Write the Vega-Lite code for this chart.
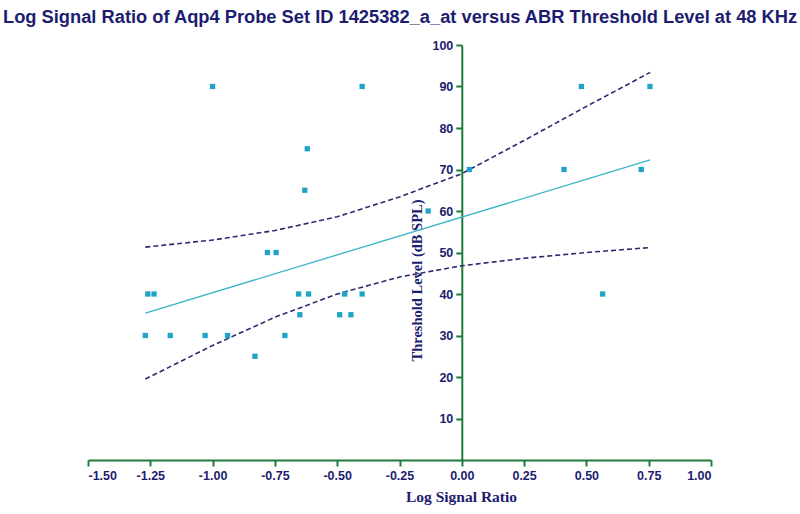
{
  "$schema": "https://vega.github.io/schema/vega-lite/v6.json",
  "autosize": "none",
  "width": 623,
  "height": 415,
  "padding": {"left": 88, "top": 45, "right": 89, "bottom": 54},
  "background": "white",
  "config": {"view": {"stroke": null}},
  "title": {
    "text": "Log Signal Ratio of Aqp4 Probe Set ID 1425382_a_at versus ABR Threshold Level at 48 KHz",
    "anchor": "start",
    "frame": "group",
    "dx": -85,
    "dy": 0,
    "offset": 12,
    "font": "Liberation Sans",
    "fontSize": 18.3,
    "fontWeight": "bold",
    "color": "#1c1c70"
  },
  "datasets": {
    "pts": [
      {"ratio": -1.00, "level": 90}, {"ratio": -0.40, "level": 90}, {"ratio": 0.48, "level": 90}, {"ratio": 0.755, "level": 90},
      {"ratio": -0.62, "level": 75}, {"ratio": -0.63, "level": 65},
      {"ratio": -0.78, "level": 50}, {"ratio": -0.745, "level": 50},
      {"ratio": -0.135, "level": 60},
      {"ratio": 0.03, "level": 70}, {"ratio": 0.41, "level": 70}, {"ratio": 0.72, "level": 70},
      {"ratio": -1.26, "level": 40}, {"ratio": -1.235, "level": 40}, {"ratio": -0.655, "level": 40}, {"ratio": -0.615, "level": 40},
      {"ratio": -0.47, "level": 40}, {"ratio": -0.40, "level": 40}, {"ratio": 0.565, "level": 40},
      {"ratio": -0.65, "level": 35}, {"ratio": -0.49, "level": 35}, {"ratio": -0.445, "level": 35},
      {"ratio": -1.27, "level": 30}, {"ratio": -1.17, "level": 30}, {"ratio": -1.03, "level": 30}, {"ratio": -0.94, "level": 30}, {"ratio": -0.71, "level": 30},
      {"ratio": -0.83, "level": 25}
    ],
    "fit": [
      {"ratio": -1.27, "level": 35.4},
      {"ratio": 0.756, "level": 72.3}
    ],
    "band": [
      {"ratio": -1.27, "level": 51.3, "bound": "upper"},
      {"ratio": -1.0, "level": 53.0, "bound": "upper"},
      {"ratio": -0.75, "level": 55.3, "bound": "upper"},
      {"ratio": -0.5, "level": 58.6, "bound": "upper"},
      {"ratio": -0.25, "level": 63.4, "bound": "upper"},
      {"ratio": 0.0, "level": 69.0, "bound": "upper"},
      {"ratio": 0.25, "level": 77.0, "bound": "upper"},
      {"ratio": 0.5, "level": 85.2, "bound": "upper"},
      {"ratio": 0.756, "level": 93.4, "bound": "upper"},
      {"ratio": -1.27, "level": 19.5, "bound": "lower"},
      {"ratio": -1.0, "level": 27.6, "bound": "lower"},
      {"ratio": -0.75, "level": 34.4, "bound": "lower"},
      {"ratio": -0.5, "level": 40.0, "bound": "lower"},
      {"ratio": -0.25, "level": 44.1, "bound": "lower"},
      {"ratio": 0.0, "level": 46.8, "bound": "lower"},
      {"ratio": 0.25, "level": 48.6, "bound": "lower"},
      {"ratio": 0.5, "level": 50.0, "bound": "lower"},
      {"ratio": 0.756, "level": 51.2, "bound": "lower"}
    ]
  },
  "encoding": {
    "x": {
      "field": "ratio", "type": "quantitative",
      "scale": {"domain": [-1.5, 1.0], "nice": false, "zero": false},
      "axis": {
        "title": "Log Signal Ratio",
        "values": [-1.5, -1.25, -1.0, -0.75, -0.5, -0.25, 0, 0.25, 0.5, 0.75, 1.0],
        "labelExpr": "replace(format(datum.value, '.2f'), '\u2212', '-')",
        "grid": false,
        "domainColor": "#1e7b3c", "domainWidth": 2,
        "tickColor": "#1e7b3c", "tickWidth": 2, "tickSize": 6,
        "labelFont": "Liberation Sans", "labelFontSize": 12.5, "labelFontWeight": "bold", "labelColor": "#1c1c70",
        "labelPadding": 3,
        "titleFont": "Liberation Serif", "titleFontSize": 15.5, "titleFontWeight": "bold", "titleColor": "#1c1c70",
        "titleX": 373, "titlePadding": 8
      }
    },
    "y": {
      "field": "level", "type": "quantitative",
      "scale": {"domain": [0, 100], "nice": false},
      "axis": {
        "title": "Threshold Level (dB SPL)",
        "values": [10, 20, 30, 40, 50, 60, 70, 80, 90, 100],
        "format": "d",
        "grid": false,
        "offset": -373.8,
        "domainColor": "#1e7b3c", "domainWidth": 2,
        "tickColor": "#1e7b3c", "tickWidth": 2, "tickSize": 6,
        "labelFont": "Liberation Sans", "labelFontSize": 12.5, "labelFontWeight": "bold", "labelColor": "#1c1c70",
        "labelPadding": 3,
        "titleFont": "Liberation Serif", "titleFontSize": 14.5, "titleFontWeight": "bold", "titleColor": "#1c1c70",
        "titleY": 235, "titlePadding": 7
      }
    }
  },
  "layer": [
    {
      "data": {"name": "band"},
      "mark": {"type": "line", "color": "#2b2b6e", "strokeWidth": 1.6, "strokeDash": [5, 3]},
      "encoding": {"detail": {"field": "bound", "type": "nominal"}}
    },
    {
      "data": {"name": "fit"},
      "mark": {"type": "line", "color": "#3ab3c8", "strokeWidth": 1.3},
      "encoding": {}
    },
    {
      "data": {"name": "pts"},
      "mark": {"type": "point", "shape": "square", "filled": true, "size": 28, "color": "#1fa3c6", "opacity": 1},
      "encoding": {}
    }
  ]
}
